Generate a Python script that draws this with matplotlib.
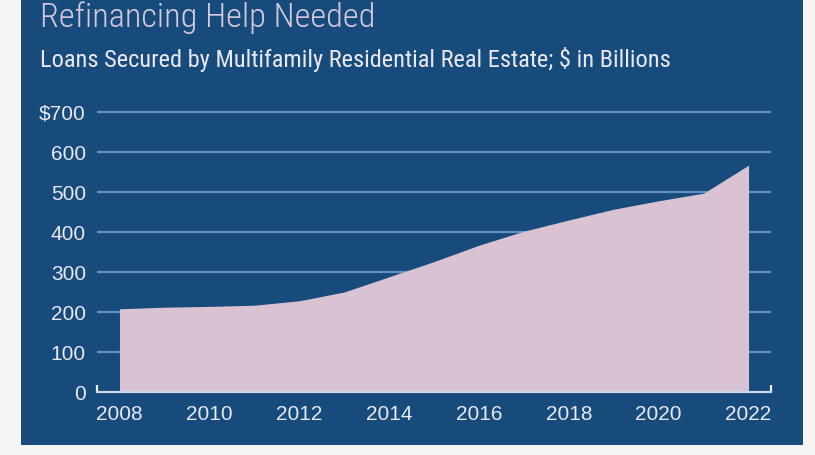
import matplotlib
matplotlib.use("Agg")
import os
import matplotlib.pyplot as plt
from matplotlib.font_manager import FontProperties, fontManager

years = [2008, 2009, 2010, 2011, 2012, 2013, 2014, 2015, 2016, 2017, 2018, 2019, 2020, 2021, 2022]
loans = [208, 212, 214, 217, 228, 250, 288, 326, 367, 402, 430, 457, 478, 497, 567]
ytick_vals = [0, 100, 200, 300, 400, 500, 600, 700]
ytick_labels = ["0", "100", "200", "300", "400", "500", "600", "$700"]
xtick_vals = [2008, 2010, 2012, 2014, 2016, 2018, 2020, 2022]
title = "Refinancing Help Needed"
subtitle = "Loans Secured by Multifamily Residential Real Estate; $ in Billions"

W, H = 815, 455
BLUE = "#174b7c"
AREA = "#d9c3d3"
GRID = "#6090c4"
TEXT = "#e9e8f0"
TITLE_C = "#d5c8dc"
BASE = "#c9d6e8"


def find_face(prefs):
    files = [f.fname for f in fontManager.ttflist]
    for p in prefs:
        for f in files:
            b = os.path.basename(f).lower()
            if p.lower() in b and "italic" not in b and "bold" not in b \
                    and "mono" not in b and "serif" not in b:
                return f
    return None


cond_regular = find_face(["RobotoCondensed-Regular", "LiberationSansNarrow-Regular",
                          "DejaVuSansCondensed.", "Condensed", "Narrow"])
cond_light = find_face(["RobotoCondensed-Light", "Condensed-Light"]) or cond_regular

fig = plt.figure(figsize=(W / 100, H / 100), dpi=100)
fig.patch.set_facecolor("#f4f4f4")
bg = fig.add_axes([21 / W, 10 / H, (803 - 21) / W, 1 - 10 / H], zorder=-5)
bg.set_facecolor(BLUE)
bg.set_xticks([]); bg.set_yticks([])
for s in bg.spines.values():
    s.set_visible(False)

# axes: x 2007.5..2022.5 -> px 97..771 ; y 0 -> px 392, 700 -> px 112
y0px, y700px = 392, 112
ppu = (y0px - y700px) / 700
ytop = 712
top_px = y0px - ytop * ppu
ax = fig.add_axes([97 / W, (H - y0px) / H, (771 - 97) / W, (y0px - top_px) / H], zorder=1)
ax.set_facecolor("none")
ax.set_xlim(2007.5, 2022.5)
ax.set_ylim(0, ytop)

for v in ytick_vals[1:]:
    ax.axhline(v, color=GRID, lw=1.6, zorder=1)

ax.fill_between(years, loans, 0, color=AREA, lw=0, zorder=2)

for s in ["top", "right", "left"]:
    ax.spines[s].set_visible(False)
ax.spines["bottom"].set_color(BASE)
ax.spines["bottom"].set_linewidth(1.6)
ax.spines["bottom"].set_zorder(3)

ax.set_yticks(ytick_vals)
ax.set_yticklabels(ytick_labels)
ax.tick_params(axis="y", length=0, pad=8, labelsize=15, labelcolor=TEXT)
ax.set_xticks(xtick_vals)
ax.set_xticklabels([str(x) for x in xtick_vals])
ax.tick_params(axis="x", which="major", length=0, pad=9.5, labelsize=15, labelcolor=TEXT)
ax.set_xticks([y + 0.5 for y in range(2007, 2023)], minor=True)
ax.tick_params(axis="x", which="minor", direction="in", length=5, width=1.6, color="#eef0f6")
for lab in ax.get_xticklabels() + ax.get_yticklabels():
    lab.set_family(["Liberation Sans", "DejaVu Sans"])

if cond_regular:
    fp1 = FontProperties(fname=cond_light, size=25)
    fp2 = FontProperties(fname=cond_regular, size=15)
else:
    fp1 = FontProperties(family=["Liberation Sans", "DejaVu Sans"], size=25)
    fp2 = FontProperties(family=["Liberation Sans", "DejaVu Sans"], size=15)

t1 = fig.text(40 / W, (H - 27) / H, title, color=TITLE_C, fontproperties=fp1,
              ha="left", va="baseline")
t2 = fig.text(40 / W, (H - 67) / H, subtitle, color=TEXT, fontproperties=fp2,
              ha="left", va="baseline")

# fit text to the reference layout widths
fig.canvas.draw()
r = fig.canvas.get_renderer()
for t, target_w, cap_size in [(t1, 375 - 40, 24.0), (t2, 673 - 40, 15.5)]:
    w = t.get_window_extent(r).width
    size_w = t.get_fontsize() * target_w / w
    if cond_regular:
        t.set_fontsize(size_w)
    else:
        size_h = cap_size / 0.716 * 0.72
        t.set_fontsize((size_w * size_h) ** 0.5)

fig.savefig("out.png", dpi=100, facecolor=fig.get_facecolor())
